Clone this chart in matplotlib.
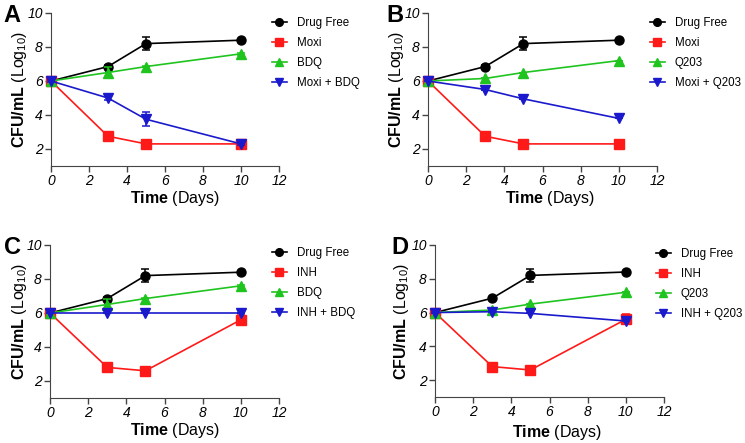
import matplotlib
matplotlib.use('Agg')
import matplotlib.pyplot as plt

plt.rcParams['font.family'] = ['Liberation Sans', 'DejaVu Sans']
plt.rcParams['mathtext.fontset'] = 'custom'
plt.rcParams['mathtext.rm'] = 'Liberation Sans'
plt.rcParams['mathtext.bf'] = 'Liberation Sans:bold'

days = [0, 3, 5, 10]

drug_free = [6.0, 6.85, 8.2, 8.4]
drug_free_err = [0.05, 0.1, 0.4, 0.05]

moxi = [6.0, 2.75, 2.3, 2.3]
inh = [6.0, 2.8, 2.6, 5.6]
inh_err = [0.05, 0.1, 0.2, 0.3]
bdq = [6.0, 6.5, 6.85, 7.6]
bdq_err = [0.05, 0.3, 0.05, 0.05]
q203 = [6.0, 6.15, 6.5, 7.2]
moxi_bdq = [6.0, 5.0, 3.75, 2.3]
moxi_bdq_err = [0.05, 0.1, 0.4, 0.05]
moxi_q203 = [6.0, 5.5, 4.95, 3.8]
inh_bdq = [6.0, 6.0, 6.0, 6.0]
inh_q203 = [6.0, 6.05, 5.95, 5.5]

no_err = [0, 0, 0, 0]

BLACK = '#000000'
RED = '#ff1a1a'
GREEN = '#1fc41f'
BLUE = '#1a1acc'

W, H = 745, 443
def fx(x): return x / W
def fy(y): return 1 - y / H

# letter, axes box in px (left, right, top, bottom), legend (left, centre y),
# letter pos, ylabel x, xlabel pos, series
panels = [
    ('A', (51, 279, 13, 166), (272, 53), (12, 15), 20, (175, 199),
     [('Drug Free', drug_free, drug_free_err),
      ('Moxi', moxi, no_err),
      ('BDQ', bdq, bdq_err),
      ('Moxi + BDQ', moxi_bdq, moxi_bdq_err)]),
    ('B', (428, 657, 13, 166), (650, 53), (395, 15), 397, (550, 199),
     [('Drug Free', drug_free, drug_free_err),
      ('Moxi', moxi, no_err),
      ('Q203', q203, no_err),
      ('Moxi + Q203', moxi_q203, no_err)]),
    ('C', (50, 279, 245, 398), (272, 283), (12, 247), 20, (175, 430),
     [('Drug Free', drug_free, drug_free_err),
      ('INH', inh, inh_err),
      ('BDQ', bdq, bdq_err),
      ('INH + BDQ', inh_bdq, no_err)]),
    ('D', (435, 664, 245, 397), (656, 284), (400, 247), 402, (557, 433),
     [('Drug Free', drug_free, drug_free_err),
      ('INH', inh, inh_err),
      ('Q203', q203, no_err),
      ('INH + Q203', inh_q203, no_err)]),
]

styles = [(BLACK, 'o', 6.5), (RED, 's', 7), (GREEN, '^', 6.5), (BLUE, 'v', 6.5)]

fig = plt.figure(figsize=(7.45, 4.43), dpi=100)

for letter, box, leg, lpos, ylx, xlpos, series in panels:
    l, r, t, b = box
    ax = fig.add_axes([fx(l), fy(b), (r - l) / W, (b - t) / H])
    for (label, vals, err), (col, mk, ms) in zip(series, styles):
        ax.plot(days, vals, color=col, marker=mk, ms=ms, lw=1.2, label=label,
                clip_on=False, zorder=3)
        ax.errorbar(days, vals, yerr=err, fmt='none', ecolor=col, capsize=3,
                    elinewidth=1.1, capthick=1.1, clip_on=False, zorder=3)
    ax.set_xlim(0, 12)
    ax.set_ylim(1, 10)
    ax.set_xticks(range(0, 13, 2))
    ax.set_yticks([2, 4, 6, 8, 10])
    ax.tick_params(labelsize=10, length=4, width=1, colors='#444444',
                   labelcolor='black', pad=2)
    for tl in ax.get_xticklabels() + ax.get_yticklabels():
        tl.set_fontstyle('italic')
    ax.spines['top'].set_visible(False)
    ax.spines['right'].set_visible(False)
    ax.spines['left'].set_color('#444444')
    ax.spines['bottom'].set_color('#444444')
    ax.set_xlabel(r'$\mathbf{Time}$ (Days)', fontsize=11.5, va='center')
    ax.xaxis.set_label_coords(fx(xlpos[0]), fy(xlpos[1]), transform=fig.transFigure)
    ax.set_ylabel(r'$\mathbf{CFU/mL}$ (Log$_{10}$)', fontsize=11.5, va='center')
    ax.yaxis.set_label_coords(fx(ylx), fy((t + b) / 2), transform=fig.transFigure)
    fig.text(fx(lpos[0]), fy(lpos[1]), letter, fontsize=17, fontweight='bold',
             ha='center', va='center')
    ax.legend(loc='center left', bbox_to_anchor=(fx(leg[0]), fy(leg[1])),
              bbox_transform=fig.transFigure, frameon=False, borderpad=0,
              borderaxespad=0, fontsize=8.3, handlelength=1.3,
              handletextpad=0.85, labelspacing=0.72, markerscale=0.85)

plt.savefig('out.png', dpi=100)
